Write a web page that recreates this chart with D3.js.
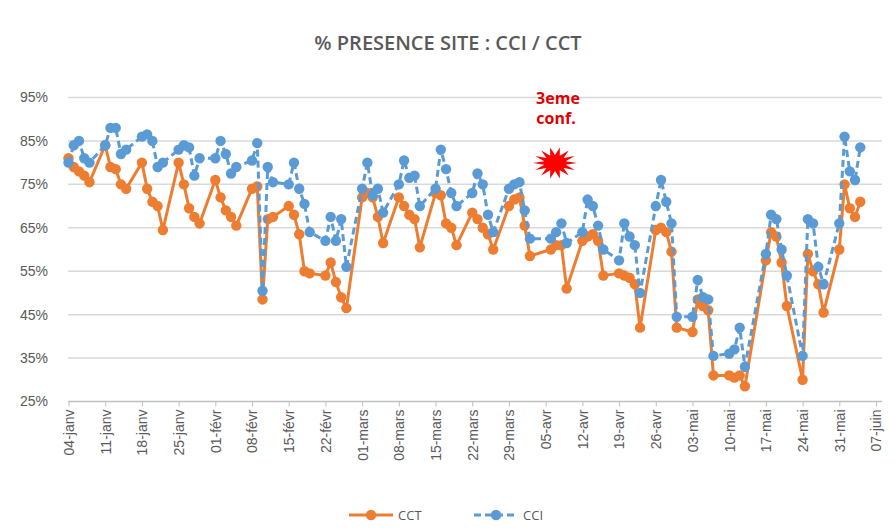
<!DOCTYPE html>
<html>
<head>
<meta charset="utf-8">
<script src="https://cdn.jsdelivr.net/npm/d3@7"></script>
<style>
  body { margin: 0; background: #fff; }
  svg { display: block; font-family: "Open Sans", "Liberation Sans", sans-serif; }
</style>
</head>
<body>
<svg id="chart"></svg>
<script>
// weekdays (Easter Monday and 14-mai missing)
const dates = [
  "2021-01-04","2021-01-05","2021-01-06","2021-01-07","2021-01-08",
  "2021-01-11","2021-01-12","2021-01-13","2021-01-14","2021-01-15",
  "2021-01-18","2021-01-19","2021-01-20","2021-01-21","2021-01-22",
  "2021-01-25","2021-01-26","2021-01-27","2021-01-28","2021-01-29",
  "2021-02-01","2021-02-02","2021-02-03","2021-02-04","2021-02-05",
  "2021-02-08","2021-02-09","2021-02-10","2021-02-11","2021-02-12",
  "2021-02-15","2021-02-16","2021-02-17","2021-02-18","2021-02-19",
  "2021-02-22","2021-02-23","2021-02-24","2021-02-25","2021-02-26",
  "2021-03-01","2021-03-02","2021-03-03","2021-03-04","2021-03-05",
  "2021-03-08","2021-03-09","2021-03-10","2021-03-11","2021-03-12",
  "2021-03-15","2021-03-16","2021-03-17","2021-03-18","2021-03-19",
  "2021-03-22","2021-03-23","2021-03-24","2021-03-25","2021-03-26",
  "2021-03-29","2021-03-30","2021-03-31","2021-04-01","2021-04-02",
  "2021-04-06","2021-04-07","2021-04-08","2021-04-09",
  "2021-04-12","2021-04-13","2021-04-14","2021-04-15","2021-04-16",
  "2021-04-19","2021-04-20","2021-04-21","2021-04-22","2021-04-23",
  "2021-04-26","2021-04-27","2021-04-28","2021-04-29","2021-04-30",
  "2021-05-03","2021-05-04","2021-05-05","2021-05-06","2021-05-07",
  "2021-05-10","2021-05-11","2021-05-12","2021-05-13",
  "2021-05-17","2021-05-18","2021-05-19","2021-05-20","2021-05-21",
  "2021-05-24","2021-05-25","2021-05-26","2021-05-27","2021-05-28",
  "2021-05-31","2021-06-01","2021-06-02","2021-06-03","2021-06-04"
];

const cct = [
  81, 79, 78, 77, 75.5,
  84, 79, 78.5, 75, 74,
  80, 74, 71, 70, 64.5,
  80, 75, 69.5, 67.5, 66,
  76, 72, 69, 67.5, 65.5,
  74, 74.5, 48.5, 67, 67.5,
  70, 68, 63.5, 55, 54.5,
  54, 57, 52.5, 49, 46.5,
  72, 73, 72, 67.5, 61.5,
  72, 70, 68, 67, 60.5,
  73, 72.5, 66, 65, 61,
  68.5, 67, 65, 63.5, 60,
  70, 71.5, 72, 65.5, 58.5,
  60, 61, 61, 51,
  62, 63, 63.5, 62, 54,
  54.5, 54, 53.5, 52, 42,
  64.5, 65, 64, 59.5, 42,
  41, 48.5, 47, 46, 31,
  31, 30.5, 31, 28.5,
  57.5, 64, 63, 57, 47,
  30, 59, 55, 52, 45.5,
  60, 75, 69.5, 67.5, 71
];

const cci = [
  80, 84, 85, 81, 80,
  84, 88, 88, 82, 83,
  86, 86.5, 85, 79, 80,
  83, 84, 83.5, 77, 81,
  81, 85, 82, 77.5, 79,
  80.5, 84.5, 50.5, 79, 75.5,
  75, 80, 74, 70.5, 64,
  62, 67.5, 62, 67, 56,
  74, 80, 72.5, 74, 68.5,
  75, 80.5, 76.5, 77, 70,
  74, 83, 78.5, 73, 70,
  73, 77.5, 75, 68, 64,
  74, 75, 75.5, 69, 62.5,
  62.5, 64, 66, 61.5,
  64, 71.5, 70, 65.5, 60,
  57.5, 66, 63, 61, 50,
  70, 76, 71, 66, 44.5,
  44.5, 53, 49, 48.5, 35.5,
  36, 37, 42, 33,
  59, 68, 67, 60, 54,
  35.5, 67, 66, 56, 52,
  66, 86, 78, 76, 83.5
];

const tickDates = [
  "2021-01-04","2021-01-11","2021-01-18","2021-01-25","2021-02-01","2021-02-08",
  "2021-02-15","2021-02-22","2021-03-01","2021-03-08","2021-03-15","2021-03-22",
  "2021-03-29","2021-04-05","2021-04-12","2021-04-19","2021-04-26","2021-05-03",
  "2021-05-10","2021-05-17","2021-05-24","2021-05-31","2021-06-07"
];
const tickLabels = [
  "04-janv","11-janv","18-janv","25-janv","01-févr","08-févr",
  "15-févr","22-févr","01-mars","08-mars","15-mars","22-mars",
  "29-mars","05-avr","12-avr","19-avr","26-avr","03-mai",
  "10-mai","17-mai","24-mai","31-mai","07-juin"
];
const yTicks = [25, 35, 45, 55, 65, 75, 85, 95];

const width = 896, height = 531;
const parse = d3.timeParse("%Y-%m-%d");
const seriesDefs = [
  { name: "CCT", values: cct, color: "#ED7D31", dash: null },
  { name: "CCI", values: cci, color: "#5B9BD5", dash: "7,4" }
];

const svg = d3.select("#chart").attr("width", width).attr("height", height);

const x = d3.scaleTime()
  .domain([parse(tickDates[0]), parse(tickDates[tickDates.length - 1])])
  .range([68.5, 876]);
const y = d3.scaleLinear().domain([25, 95]).range([401.5, 97.5]);

// title
svg.append("text")
  .attr("x", 448).attr("y", 45)
  .attr("text-anchor", "middle").attr("dominant-baseline", "middle")
  .attr("fill", "#595959").attr("font-size", 20).attr("font-weight", 600)
  .text("% PRESENCE SITE : CCI / CCT");

// gridlines + y labels
const yAxis = d3.axisLeft(y).tickValues(yTicks).tickSize(0).tickPadding(20)
  .tickFormat(d => d + "%");
const gy = svg.append("g").attr("transform", "translate(68,0)").call(yAxis);
gy.select(".domain").remove();
gy.selectAll("text").attr("fill", "#595959").attr("font-size", 14);

svg.append("g").selectAll("line")
  .data(yTicks.slice(1))
  .join("line")
  .attr("x1", 68).attr("x2", 882)
  .attr("y1", d => y(d)).attr("y2", d => y(d))
  .attr("stroke", "#d9d9d9").attr("stroke-width", 1.5);

// x axis
const xAxis = d3.axisBottom(x)
  .tickValues(tickDates.map(parse))
  .tickSize(5)
  .tickFormat((d, i) => tickLabels[i]);
const gx = svg.append("g").attr("transform", `translate(0,${y(25)})`).call(xAxis);
gx.select(".domain").attr("d", "M68,0H882").attr("stroke", "#bfbfbf").attr("stroke-width", 1.5);
gx.selectAll(".tick line").attr("stroke", "#bfbfbf");
gx.selectAll("text")
  .attr("fill", "#595959").attr("font-size", 14)
  .attr("transform", "rotate(-90)")
  .attr("text-anchor", "end")
  .attr("x", -8).attr("y", 0).attr("dy", "0.35em");

// series
const line = d3.line().x(d => x(d.date)).y(d => y(d.v));
seriesDefs.forEach(s => {
  const pts = dates.map((d, i) => ({ date: parse(d), v: s.values[i] }));
  const g = svg.append("g");
  g.append("path")
    .datum(pts)
    .attr("d", line)
    .attr("fill", "none")
    .attr("stroke", s.color)
    .attr("stroke-width", 3)
    .attr("stroke-dasharray", s.dash)
    .attr("stroke-linejoin", "round");
  g.selectAll("circle")
    .data(pts)
    .join("circle")
    .attr("cx", d => x(d.date)).attr("cy", d => y(d.v))
    .attr("r", 5.2)
    .attr("fill", s.color);
});

// annotation
const note = svg.append("g");
const burst = d3.range(28).map(i => {
  const a = (i / 28) * 2 * Math.PI;
  const r = i % 2 === 0 ? 1 : 0.5;
  return [555 + Math.cos(a) * 22 * r, 163 + Math.sin(a) * 16 * r];
});
note.append("polygon")
  .attr("points", burst.map(p => p.join(",")).join(" "))
  .attr("fill", "#ff0000");
note.append("text")
  .attr("x", 558).attr("y", 104)
  .attr("text-anchor", "middle")
  .attr("fill", "#e00000").attr("font-size", 16).attr("font-weight", 700)
  .text("3eme");
note.append("text")
  .attr("x", 556).attr("y", 124)
  .attr("text-anchor", "middle")
  .attr("fill", "#e00000").attr("font-size", 16).attr("font-weight", 700)
  .text("conf.");

// legend
const legend = svg.append("g").attr("transform", "translate(0,515)");
const legendItems = [
  { s: seriesDefs[0], x: 349 },
  { s: seriesDefs[1], x: 474 }
];
legendItems.forEach(it => {
  const g = legend.append("g").attr("transform", `translate(${it.x},0)`);
  g.append("line").attr("x1", 0).attr("x2", 44).attr("y1", 0).attr("y2", 0)
    .attr("stroke", it.s.color).attr("stroke-width", 3)
    .attr("stroke-dasharray", it.s.dash);
  g.append("circle").attr("cx", 22).attr("cy", 0).attr("r", 5.2).attr("fill", it.s.color);
  g.append("text").attr("x", 49).attr("y", 0).attr("dy", "0.35em")
    .attr("fill", "#595959").attr("font-size", 13).text(it.s.name);
});
</script>
</body>
</html>
